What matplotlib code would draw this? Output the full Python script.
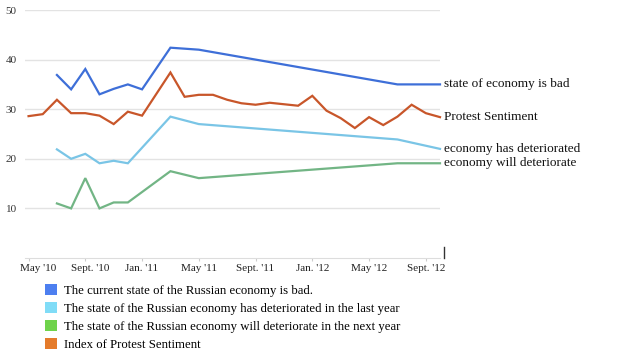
import matplotlib
matplotlib.use("Agg")
import matplotlib.pyplot as plt
from matplotlib.patches import Patch
from matplotlib.transforms import ScaledTranslation

plt.rcParams['font.family'] = ['Liberation Serif', 'DejaVu Serif']

# months counted from May 2010
tick_months = [0, 4, 8, 12, 16, 20, 24, 28]
tick_labels = ["May '10", "Sept. '10", "Jan. '11", "May '11",
               "Sept. '11", "Jan. '12", "May '12", "Sept. '12"]

bad_m = [2, 3, 4, 5, 6, 7, 8, 10, 12, 26, 29]
bad_v = [36.9, 34.0, 38.1, 33.0, 34.1, 35.0, 34.0, 42.4, 42.0, 35.0, 35.0]

protest_m = [0, 1, 2, 3, 4, 5, 6, 7, 8, 10, 11, 12, 13, 14, 15, 16, 17, 18, 19,
             20, 21, 22, 23, 24, 25, 26, 27, 28, 29]
protest_v = [28.6, 29.0, 31.9, 29.2, 29.2, 28.7, 27.0, 29.5, 28.7, 37.4, 32.5,
             32.9, 32.9, 31.9, 31.2, 30.9, 31.3, 31.0, 30.7, 32.7, 29.7, 28.2,
             26.2, 28.4, 26.8, 28.5, 30.9, 29.2, 28.4]

worse_m = [2, 3, 4, 5, 6, 7, 10, 12, 26, 29]
worse_v = [21.9, 20.0, 21.0, 19.1, 19.6, 19.1, 28.5, 27.0, 23.9, 22.0]

will_m = [2, 3, 4, 5, 6, 7, 10, 12, 26, 29]
will_v = [11.0, 10.0, 16.1, 10.0, 11.2, 11.2, 17.5, 16.1, 19.1, 19.1]

series = [
    (bad_m, bad_v, '#3e6fd8', 'state of economy is bad'),
    (protest_m, protest_v, '#c8562a', 'Protest Sentiment'),
    (worse_m, worse_v, '#7ac5e6', 'economy has deteriorated'),
    (will_m, will_v, '#72b585', 'economy will deteriorate'),
]

legend_labels = ['The current state of the Russian economy is bad.',
                 'The state of the Russian economy has deteriorated in the last year',
                 'The state of the Russian economy will deteriorate in the next year',
                 'Index of Protest Sentiment']
legend_colors = ['#4d7ff0', '#80dcf7', '#6fd34b', '#e57b2b']

fig = plt.figure(figsize=(6.4, 3.56), dpi=100)
ax = fig.add_axes([25 / 640, 1 - 258 / 356, 415 / 640, 248 / 356])

for m, v, c, name in series:
    ax.plot(m, v, color=c, lw=1.6, clip_on=False, solid_joinstyle='miter')
    ax.annotate(name, xy=(m[-1], v[-1]), xytext=(3, 0), textcoords='offset points',
                va='center', ha='left', fontsize=9.5, color='#111111',
                annotation_clip=False)

ax.set_xlim(-0.25, 29)
ax.set_ylim(0, 50)
ax.set_yticks([10, 20, 30, 40, 50])
ax.yaxis.grid(True, color='#e3e3e3', lw=1)
ax.set_axisbelow(True)
ax.set_xticks(tick_months)
ax.set_xticklabels(tick_labels)
ax.tick_params(axis='x', length=2, color='#cccccc', labelsize=8, pad=2, labelcolor='#222222')
ax.tick_params(axis='y', length=0, labelsize=8, pad=6, labelcolor='#333333')
for s in ['top', 'right', 'left']:
    ax.spines[s].set_visible(False)
ax.spines['bottom'].set_color('#dddddd')

# first two labels sit a bit right of their ticks in the original
for lab, dx in zip(ax.get_xticklabels()[:2], [10, 5]):
    lab.set_transform(lab.get_transform() + ScaledTranslation(dx / 100, 0, fig.dpi_scale_trans))

ax.plot([1.0096, 1.0096], [0, 0.045], transform=ax.transAxes, color='#333333',
        lw=1, clip_on=False)

handles = [Patch(facecolor=c, edgecolor='none') for c in legend_colors]
fig.legend(handles, legend_labels, loc='upper left',
           bbox_to_anchor=(45 / 640, 1 - 284 / 356), frameon=False,
           fontsize=9.2, handlelength=0.9, handleheight=0.9, handletextpad=0.55,
           labelspacing=0.42, borderpad=0, borderaxespad=0)

fig.savefig('out.png', dpi=100, facecolor='white')
